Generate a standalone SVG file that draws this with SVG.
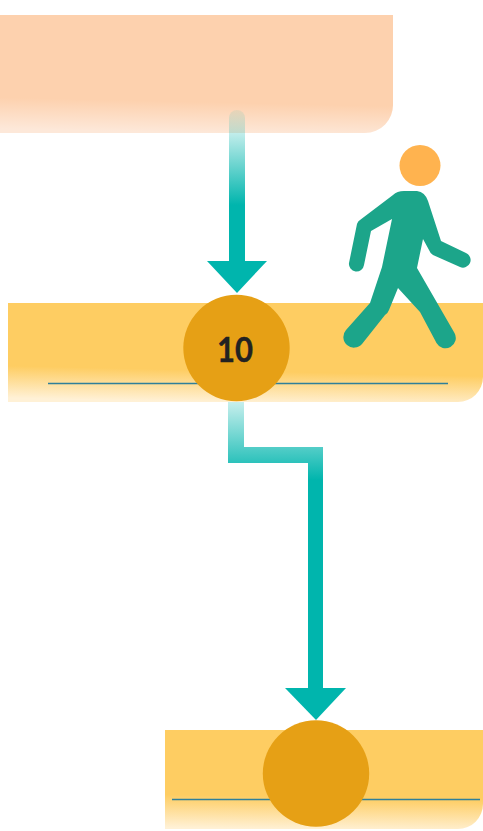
<svg xmlns="http://www.w3.org/2000/svg" width="483" height="831" viewBox="0 0 483 831">
<style>
.disc{fill:#e6a015}
.rule{stroke:#2f7f9a;stroke-width:1.3;fill:none}
.head{fill:#00b5ad}
.num{font-family:"Lato","Liberation Sans",sans-serif;font-weight:700;font-size:35px;fill:#222;stroke:#222;stroke-width:0.4;text-anchor:middle}
</style>
<defs>
<linearGradient id="gTop" gradientUnits="userSpaceOnUse" x1="200" y1="102" x2="199.3" y2="133">
<stop offset="0" stop-color="#fdd1ae"/><stop offset="1" stop-color="#fde8d9"/>
</linearGradient>
<linearGradient id="gBand2" gradientUnits="userSpaceOnUse" x1="240" y1="371" x2="239.3" y2="403">
<stop offset="0" stop-color="#fecd62"/><stop offset="1" stop-color="#fff1d6"/>
</linearGradient>
<linearGradient id="gBand3" gradientUnits="userSpaceOnUse" x1="320" y1="797" x2="319.5" y2="830">
<stop offset="0" stop-color="#fecd62"/><stop offset="1" stop-color="#fff1d6"/>
</linearGradient>
<linearGradient id="gArrow1" gradientUnits="userSpaceOnUse" x1="0" y1="110" x2="0" y2="205">
<stop offset="0" stop-color="#00b5ad" stop-opacity="0.08"/><stop offset="0.25" stop-color="#00b5ad" stop-opacity="0.25"/><stop offset="1" stop-color="#00b5ad"/>
</linearGradient>
<linearGradient id="gArrow2" gradientUnits="userSpaceOnUse" x1="0" y1="402" x2="0" y2="480">
<stop offset="0" stop-color="#00b5ad" stop-opacity="0.22"/><stop offset="1" stop-color="#00b5ad"/>
</linearGradient>
</defs>
<g id="band-top"><path d="M0 15H393V104A28 28 0 0 1 365 133H0Z" fill="url(#gTop)"/></g>
<g id="connectors">
<path d="M229 118A8 8 0 0 1 245 118V262H229Z" fill="url(#gArrow1)"/>
<polygon class="head" points="207,261 267,261 237,293"/>
<path d="M228 400H244V447H323V690H308V463H228Z" fill="url(#gArrow2)"/>
<polygon class="head" points="285,688 346,688 316,720"/>
</g>
<g id="node-10">
<path d="M8 303H483V377A25 25 0 0 1 458 402H8Z" fill="url(#gBand2)"/>
<line class="rule" x1="48" y1="383.5" x2="448" y2="383.5"/>
<circle class="disc" cx="236.5" cy="348" r="53.2"/>
<text class="num" x="235" y="362" textLength="36" lengthAdjust="spacingAndGlyphs">10</text>
</g>
<g id="node-bottom">
<path d="M165 730H483V804A25 25 0 0 1 458 829H165Z" fill="url(#gBand3)"/>
<line class="rule" x1="172" y1="799.5" x2="480" y2="799.5"/>
<circle class="disc" cx="316" cy="773.5" r="53.2"/>
</g>
<g id="walker">
<circle cx="420" cy="165.5" r="20.5" fill="#ffb34f"/>
<path fill="#1ca58a" d="M393 195Q397 191 404 191H417Q425 192 428 201L441 241L466 253A7.5 7.5 0 0 1 460 267L433 255Q430 253 429 250L423 239L417 268L454.5 333A10 10 0 0 1 436.5 343L420 312L398 288L389 310Q388 313 385 315L362 344A10 10 0 0 1 346 330L370 303L382 267L392 219L371 231L364 265A7.5 7.5 0 0 1 349 263L357 224Q358 221 360 220Z"/>
</g>
</svg>
